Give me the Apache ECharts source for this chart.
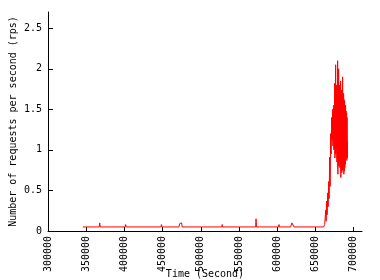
<!DOCTYPE html>
<html>
<head>
<meta charset="utf-8">
<script src="https://cdn.jsdelivr.net/npm/echarts@6/dist/echarts.min.js"></script>
<style>
html,body{margin:0;padding:0;background:#fff;}
#c{width:380px;height:280px;}
</style>
</head>
<body>
<div id="c"></div>
<script>
var xTicks = [300000, 350000, 400000, 450000, 500000, 550000, 600000, 650000, 700000];
var yTicks = [0, 0.5, 1, 1.5, 2, 2.5];

// baseline with small spikes
var baseTime = [345600, 367000, 367700, 368400, 401000, 401600, 402200, 447700, 448500, 449100,
  471500, 472300, 473000, 475000, 475600, 527500, 528000, 528600, 571800, 572300, 572900,
  601800, 602300, 602900, 617500, 619200, 620500, 622000, 660800];
var baseRps = [0.05, 0.05, 0.10, 0.05, 0.05, 0.08, 0.05, 0.05, 0.08, 0.05,
  0.05, 0.09, 0.10, 0.10, 0.05, 0.05, 0.08, 0.05, 0.05, 0.15, 0.05,
  0.05, 0.08, 0.05, 0.05, 0.10, 0.08, 0.05, 0.05];

// ramp up
var rampTime = [662200, 662800, 663500, 664100, 664800, 665400, 666100, 666700, 667400, 668000, 668700, 669300, 670000, 670600];
var rampRps = [0.08, 0.06, 0.26, 0.12, 0.37, 0.20, 0.47, 0.30, 0.61, 0.40, 0.91, 0.55, 1.20, 0.95];

// burst
var burstTime = [671300, 671625, 671950, 672275, 672600, 672925, 673250, 673575, 673900, 674225,
  674550, 674875, 675200, 675525, 675850, 676175, 676500, 676825, 677150, 677475,
  677800, 678125, 678450, 678775, 679100, 679425, 679750, 680075, 680400, 680725,
  681050, 681375, 681700, 682025, 682350, 682675, 683000, 683325, 683650, 683975,
  684300, 684625, 684950, 685275, 685600, 685925, 686250, 686575, 686900, 687225,
  687550, 687875, 688200, 688525, 688850, 689175, 689500, 689825, 690150, 690475,
  690800, 691125, 691450, 691775, 692100];
var burstRps = [1.40, 1.12, 1.35, 1.15, 1.50, 1.05, 1.44, 1.10, 1.55, 1.00,
  1.48, 1.02, 1.82, 0.90, 1.60, 0.95, 2.05, 0.96, 1.75, 1.00,
  1.80, 0.85, 1.70, 0.90, 2.10, 0.70, 1.85, 0.80, 2.00, 0.82,
  1.78, 0.85, 1.80, 0.78, 1.72, 0.80, 1.85, 0.66, 1.60, 0.74,
  1.74, 0.72, 1.65, 0.75, 1.90, 0.76, 1.70, 0.80, 1.69, 0.70,
  1.62, 0.74, 1.60, 0.78, 1.50, 0.82, 1.55, 0.90, 1.48, 0.92,
  1.45, 0.87, 1.40, 0.90, 1.10];

var times = baseTime.concat(rampTime, burstTime);
var rps = baseRps.concat(rampRps, burstRps);
var pts = times.map(function (t, i) { return [t, rps[i]]; });

var FONT = 'DejaVu Sans Mono';
var chart = echarts.init(document.getElementById('c'), null, {renderer: 'canvas'});
chart.setOption({
  animation: false,
  backgroundColor: '#ffffff',
  grid: {left: 48, right: 18, top: 12, bottom: 49, containLabel: false, outerBoundsMode: 'none'},
  xAxis: {
    type: 'value', min: 300000, max: 711000,
    name: 'Time (Second)', nameLocation: 'middle', nameGap: 38, nameMoveOverlap: false,
    nameTextStyle: {fontFamily: FONT, fontSize: 10, color: '#000'},
    splitLine: {show: false},
    axisLine: {show: true, onZero: false, lineStyle: {color: '#000', width: 1}},
    axisTick: {show: true, inside: true, length: 4, customValues: xTicks, lineStyle: {color: '#000'}},
    axisLabel: {customValues: xTicks, rotate: 90, margin: 5, fontFamily: FONT, fontSize: 10, color: '#000',
      hideOverlap: false, formatter: function (v) { return String(v); }}
  },
  yAxis: {
    type: 'value', min: 0, max: 2.7,
    name: 'Number of requests per second (rps)', nameLocation: 'middle', nameGap: 30, nameMoveOverlap: false,
    nameTextStyle: {fontFamily: FONT, fontSize: 10, color: '#000'},
    splitLine: {show: false},
    axisLine: {show: true, lineStyle: {color: '#000', width: 1}},
    axisTick: {show: true, inside: true, length: 5, customValues: yTicks, lineStyle: {color: '#000'}},
    axisLabel: {customValues: yTicks, margin: 6, fontFamily: FONT, fontSize: 10, color: '#000',
      formatter: function (v) { return String(v); }}
  },
  series: [{
    type: 'line', data: pts, showSymbol: false, symbol: 'none',
    lineStyle: {color: '#ff0000', width: 1}, itemStyle: {color: '#ff0000'}
  }]
});
</script>
</body>
</html>
